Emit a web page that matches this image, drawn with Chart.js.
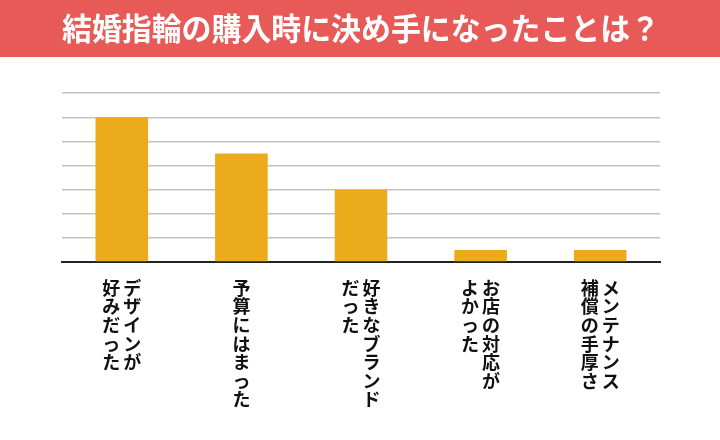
<!DOCTYPE html>
<html lang="ja">
<head>
<meta charset="utf-8">
<script src="https://cdn.jsdelivr.net/npm/chart.js@4/dist/chart.umd.min.js"></script>
<style>
  html, body { margin: 0; padding: 0; background: #fff; }
  #wrap { width: 720px; height: 440px; }
</style>
</head>
<body>
<div id="wrap"><canvas id="chart" width="720" height="440"></canvas></div>
<script>
const titleText = '結婚指輪の購入時に決め手になったことは？'
// each category label is split into vertical columns (right to left)
const categories = [
  ['デザインが', '好みだった'],
  ['予算にはまった'],
  ['好きなブランド', 'だった'],
  ['お店の対応が', 'よかった'],
  ['メンテナンス', '補償の手厚さ']
]
const values = [6, 4.5, 3, 0.5, 0.5]
const yMax = 7

const barColor = '#EBAB1B'
const titleBg = '#E85A58'
const jpFont = '"Noto Sans CJK JP", "Noto Sans", sans-serif'

// red band behind the title
const titleBand = {
  id: 'titleBand',
  beforeDraw(chart) {
    const ctx = chart.ctx
    ctx.save()
    ctx.fillStyle = titleBg
    ctx.fillRect(0, 0, chart.width, 57)
    ctx.restore()
  }
}

// vertical (tategaki) category labels under each bar
const verticalLabels = {
  id: 'verticalLabels',
  afterDraw(chart) {
    const ctx = chart.ctx
    const xScale = chart.scales.x
    const size = 18
    const step = 18.6
    const colGap = 21
    const top = chart.chartArea.bottom + 17
    ctx.save()
    ctx.font = `bold ${size}px ${jpFont}`
    ctx.fillStyle = '#111'
    ctx.textAlign = 'center'
    ctx.textBaseline = 'top'
    categories.forEach((cols, i) => {
      const cx = xScale.getPixelForTick(i)
      const n = cols.length
      cols.forEach((col, c) => {
        const x = cx + ((n - 1) / 2 - c) * colGap
        Array.from(col).forEach((ch, k) => {
          ctx.fillText(ch, x, top + k * step)
        })
      })
    })
    ctx.restore()
  }
}

new Chart(document.getElementById('chart'), {
  type: 'bar',
  data: {
    labels: categories.map(c => c.join('')),
    datasets: [{
      data: values,
      backgroundColor: barColor,
      barPercentage: 0.44,
      categoryPercentage: 1
    }]
  },
  options: {
    responsive: false,
    animation: false,
    layout: {
      padding: { left: 62, right: 60, top: 0, bottom: 178 }
    },
    plugins: {
      legend: { display: false },
      tooltip: { enabled: false },
      title: {
        display: true,
        text: titleText,
        color: '#fff',
        font: { family: jpFont, size: 31, weight: 'bold', lineHeight: 1.2 },
        padding: { top: 10, bottom: 46 }
      }
    },
    scales: {
      x: {
        grid: { display: false, drawTicks: false },
        border: { display: true, color: '#222', width: 2 },
        ticks: { display: false }
      },
      y: {
        min: 0,
        max: yMax,
        ticks: { display: false, stepSize: 1 },
        grid: { color: '#c4c4c4', lineWidth: 1.5, drawTicks: false },
        border: { display: false }
      }
    }
  },
  plugins: [titleBand, verticalLabels]
})
</script>
</body>
</html>
